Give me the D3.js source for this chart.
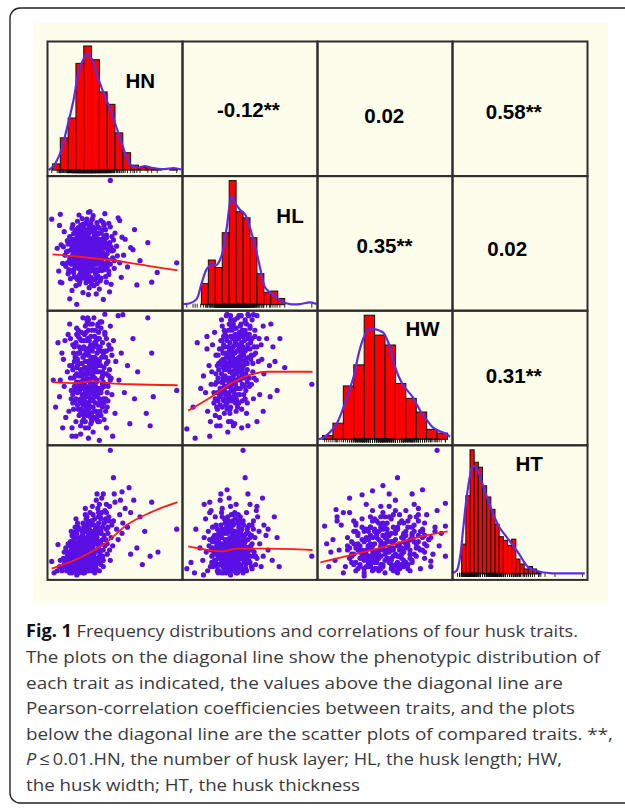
<!DOCTYPE html>
<html>
<head>
<meta charset="utf-8">
<script src="https://cdn.jsdelivr.net/npm/d3@7"></script>
<style>
  body { margin: 0; background: #fff; }
</style>
</head>
<body>
<script>
// ---- data ----
const traits = ["HN", "HL", "HW", "HT"];
const traitDomains = [[6, 22], [10, 28], [8, 14], [0.08, 0.68]];

// histograms (bin start, bin width, counts)
const histStart = [6, 12, 8, 0.10];
const histWidth = [1, 1, 0.5, 0.02];
const countsHN = [5, 26, 42, 86, 100, 89, 63, 53, 30, 14, 4, 2, 2, 1, 0, 1];
const countsHL = [17, 36, 30, 58, 100, 75, 70, 54, 25, 10, 11, 5];
const countsHW = [3, 13, 43, 60, 100, 84, 76, 45, 33, 22, 8, 5];
const countsHT = [24, 63, 100, 90, 86, 71, 62, 52, 40, 30, 27, 23, 28, 12, 8, 4, 6, 4, 1];

// density curves (value, height on count scale)
const densHN = [[5.5,0],[6.1,3.2],[7.0,13.9],[7.8,32.6],[8.7,56.7],[9.3,78],[10.0,90],[10.4,93.6],[11.0,90],[11.65,78],[12.3,66],[12.9,56.7],[13.6,46],[14.2,34],[14.85,22],[15.5,10],[16.1,3.7],[17.0,2.1],[17.8,3.2],[18.7,1.9],[19.5,1.1],[20.4,0.8],[21.5,1.6],[22.5,0.5]];
const densHL = [[9.4,0.5],[10.36,1.1],[11.3,4.5],[12.0,16.6],[12.76,28.6],[13.5,32.6],[14.2,32],[14.9,39.3],[15.64,62],[16.36,87.4],[16.84,82],[17.56,76.5],[18.28,72.7],[19.0,62],[19.72,47.6],[20.44,30],[21.16,14],[21.88,9.9],[22.84,5.9],[23.8,1.9],[24.76,0.5],[26.2,0.5],[27.64,1.9],[28.6,0.5]];
const densHW = [[7.8,0],[8.03,1.3],[8.34,5.4],[8.66,12],[8.97,24],[9.28,39],[9.52,52],[9.75,70],[9.98,82],[10.22,89],[10.45,89],[10.67,88],[10.91,86],[11.16,78],[11.39,64],[11.62,52],[11.86,44],[12.09,39],[12.33,34],[12.56,27],[12.8,20],[13.03,15],[13.27,10],[13.5,7.5],[13.73,5.9],[13.97,4],[14.12,2]];
const densHT = [[0.053,0.5],[0.076,2.7],[0.092,13.4],[0.108,37.6],[0.124,61.8],[0.14,79],[0.152,86.6],[0.168,86],[0.187,79],[0.203,71],[0.221,61.8],[0.242,52.4],[0.262,44],[0.281,37.6],[0.305,32],[0.329,26.9],[0.352,21.5],[0.376,16],[0.4,9.4],[0.423,4.8],[0.455,2.7],[0.486,1.3],[0.533,0.5],[0.597,0.5],[0.66,0.5],[0.691,0.5]];

// correlation coefficients above the diagonal
const corrPairs = [[0, 1], [0, 2], [0, 3], [1, 2], [1, 3], [2, 3]];
const corrText = ["-0.12**", "0.02", "0.58**", "0.35**", "0.02", "0.31**"];

// scatter points [x trait, y trait]
const hnHl = [[9.2,17.1],[10.1,16.4],[10.8,17.8],[11.5,16.9],[9.6,18.5],[10.4,19.2],[8.7,16.2],[9.9,15.3],[11.2,15.8],[12.1,17.4],[8.4,18.1],[9.1,19.8],[10.6,20.4],[11.8,19.1],[12.6,18.3],[13.1,16.6],[8.1,15.2],[9.4,14.4],[10.9,14.1],[12.3,15.1],[7.6,17.3],[8.9,20.6],[11.4,21.1],[12.9,20.2],[13.6,17.9],[7.9,19.4],[10.2,21.8],[9.5,13.5],[11.7,13.2],[8.3,13.9],[12.8,14.2],[13.9,15.4],[7.3,16.1],[14.2,18.6],[10.7,12.6],[9.0,12.9],[12.2,22.3],[9.8,22.6],[8.6,21.7],[13.4,21.4],[7.1,18.8],[14.6,16.2],[11.0,18.6],[10.0,17.9],[9.3,16.7],[11.9,16.2],[10.5,15.6],[8.8,17.6],[12.5,19.7],[11.3,20.0],[9.7,20.9],[13.0,18.8],[10.3,13.8],[8.0,14.6],[14.0,20.5],[12.0,12.4],[11.1,22.5],[7.5,20.7],[15.1,17.3],[14.8,14.1],[6.8,15.0],[13.5,13.1],[9.9,11.9],[11.6,11.7],[8.5,12.2],[15.3,19.6],[6.9,21.6],[7.2,13.3],[12.7,23.3],[9.4,23.1],[15.6,15.6],[14.4,22.7],[16.0,18.4],[6.6,18.3],[10.8,23.6],[13.3,12.0],[10.2,18.3],[9.6,16.0],[11.4,17.5],[10.9,16.1],[8.9,18.9],[12.3,16.0],[11.7,18.0],[9.0,15.6],[10.4,14.8],[11.0,19.6],[9.8,19.3],[8.2,16.8],[12.8,17.0],[13.8,19.5],[10.1,20.1],[8.0,17.9],[11.5,14.6],[12.4,20.9],[9.3,21.3],[7.7,15.7],[13.2,15.0],[10.6,11.6],[14.3,17.2],[8.6,19.6],[11.2,23.0],[12.9,13.4],[7.4,18.5],[9.5,17.6],[10.7,17.2],[11.8,15.0],[10.0,16.8],[9.1,18.0],[12.0,18.9],[10.3,22.0],[8.7,14.8],[13.7,16.9],[11.3,12.9],[9.7,14.2],[14.9,19.9],[12.6,21.6],[10.5,17.5],[9.9,17.2],[11.1,17.0],[10.3,18.0],[10.8,16.6],[9.5,17.9],[11.6,17.9],[10.0,18.7],[10.7,19.0],[11.3,18.4],[9.2,16.9],[10.2,16.2],[11.9,17.1],[9.7,15.6],[11.0,15.4],[12.2,16.5],[8.6,17.4],[10.5,20.0],[9.4,19.0],[12.0,19.6],[10.9,20.7],[8.9,16.0],[11.7,16.0],[10.1,15.1],[12.5,17.6],[9.0,18.3],[11.4,19.4],[10.6,14.4],[12.7,15.8],[8.4,19.3],[9.8,20.3],[11.2,21.4],[12.3,18.7],[8.1,16.3],[13.0,17.5],[10.4,16.9],[9.6,14.8],[11.8,14.3],[10.8,13.5],[9.3,20.2],[12.6,20.1],[8.7,15.2],[13.3,19.1],[10.0,21.2],[11.5,20.6],[9.1,14.0],[12.9,16.2],[10.9,18.2],[9.9,16.5],[11.3,16.3],[10.2,17.7],[10.6,15.8],[11.9,18.4],[9.4,18.4],[8.8,17.0],[12.1,15.4],[10.4,19.6],[11.1,19.0],[9.7,19.7],[10.8,16.0],[11.6,15.2],[9.3,15.4],[12.4,19.1],[10.1,14.5],[10.5,21.0],[8.5,18.6],[11.4,13.8],[13.5,18.5],[12.8,21.0],[9.0,21.0],[7.8,17.8],[13.2,14.5],[11.0,17.6],[10.7,18.5],[9.8,18.1],[11.5,18.7],[10.3,15.5],[12.0,17.9],[9.5,16.4],[10.0,19.8],[9.0,17.5],[10.6,17.0],[11.2,18.1],[9.8,18.0],[10.3,16.0],[11.8,16.6],[9.4,15.8],[10.9,15.0],[12.4,17.0],[8.6,18.0],[10.1,19.5],[11.6,19.8],[9.1,19.3],[12.2,18.0],[10.4,14.2],[11.4,16.0],[8.9,15.5],[12.7,19.2],[10.0,20.6],[11.0,21.0],[9.6,21.6],[12.0,21.2],[8.3,17.0],[13.1,18.1],[10.7,13.7],[9.2,13.8],[12.2,14.0],[8.7,20.4],[11.7,22.0],[10.4,22.5],[13.4,16.0],[9.9,14.0],[11.0,14.0],[8.0,18.9],[12.6,15.2],[10.2,19.0],[9.7,17.3],[11.3,17.3],[10.8,18.9],[9.5,18.8],[11.9,18.9],[10.5,16.3],[8.4,16.0],[12.9,19.8],[9.3,20.6],[11.4,20.4],[10.7,21.5],[9.0,16.4],[12.3,16.4],[10.1,15.8],[11.1,16.7],[9.8,15.0],[11.6,14.0],[10.3,13.3],[12.1,13.6],[9.4,13.1],[8.8,14.2],[13.0,15.6],[13.6,20.0],[8.2,20.0],[10.9,22.0],[9.2,22.2],[11.9,20.4],[12.5,22.0],[8.5,21.2],[13.2,21.9],[10.0,16.0],[10.6,18.0],[11.5,17.7],[9.6,19.6],[12.8,18.6],[9.1,17.7],[10.4,17.4],[11.1,18.2],[10.8,19.7],[9.9,21.8],[11.3,15.1],[10.2,14.9],[12.4,15.9],[9.3,16.1],[8.6,16.7],[12.0,16.9],[11.0,13.2],[13.8,18.0],[7.9,16.2],[8.1,14.9],[13.9,16.5],[10.5,18.8],[11.8,21.4],[9.5,20.0],[10.7,15.4],[11.2,19.2],[9.7,16.8],[12.6,17.3],[10.9,17.4],[10.1,18.6],[11.5,16.4],[9.9,17.6],[12.2,20.5],[8.9,19.0],[13.4,28.1],[5.9,22.5],[7.0,23.2],[14.6,22.3],[18.2,19.1],[21.9,16.2],[19.4,14.8],[18.7,13.4],[16.8,13.0],[9.1,10.2],[7.0,13.4],[16.3,18.1],[10.6,23.5],[17.2,16.5],[16.5,21.0],[8.2,11.0],[12.5,10.9]];
const hnHw = [[10.5,10.9],[9.8,11.4],[11.3,10.2],[10.1,12.1],[11.9,11.6],[9.2,10.3],[12.4,10.7],[8.8,11.8],[10.7,9.7],[11.6,12.6],[9.5,12.9],[12.8,12.0],[8.4,10.0],[10.0,9.2],[11.1,13.3],[13.2,11.1],[7.9,11.3],[9.3,9.5],[12.1,9.4],[10.4,13.6],[8.6,12.6],[13.6,10.2],[7.5,10.6],[11.8,8.9],[9.0,8.9],[12.7,13.1],[14.1,11.8],[10.9,11.7],[9.7,10.6],[11.4,11.0],[10.2,10.3],[8.1,9.4],[13.0,9.6],[7.2,12.2],[12.3,13.7],[9.1,13.4],[14.5,10.9],[10.6,8.6],[11.5,9.8],[8.7,11.0],[7.7,9.1],[13.8,12.8],[12.0,11.3],[10.3,11.2],[9.4,11.1],[11.0,10.5],[10.8,12.5],[8.3,12.9],[12.6,9.0],[6.9,10.1],[13.4,13.5],[9.9,13.9],[11.2,8.4],[14.8,12.2],[7.4,11.9],[15.2,10.3],[9.6,8.3],[12.9,8.6],[8.0,13.1],[10.0,10.0],[11.7,10.4],[12.2,12.3],[9.0,12.0],[10.9,9.1],[14.0,9.3],[7.0,10.9],[11.3,13.9],[13.3,12.4],[8.5,8.6],[10.4,12.8],[15.6,11.6],[12.5,10.0],[9.8,9.8],[11.0,11.9],[8.9,10.4],[10.2,8.9],[13.1,10.6],[7.6,12.8],[11.8,12.9],[9.3,13.0],[10.6,11.4],[9.9,10.9],[11.5,11.4],[10.3,9.6],[12.4,11.3],[9.1,11.5],[10.7,10.1],[11.1,12.3],[8.6,9.8],[12.9,11.7],[9.6,12.4],[10.1,13.1],[13.5,11.0],[8.2,11.6],[11.9,9.7],[10.8,10.6],[10.8,10.8],[10.3,10.6],[11.2,11.1],[10.6,11.8],[11.0,10.0],[9.8,10.2],[11.7,10.9],[10.1,11.5],[11.4,12.0],[9.5,10.8],[12.2,10.3],[10.4,9.8],[11.9,11.8],[9.2,11.9],[10.9,12.6],[12.6,11.5],[9.7,9.5],[11.3,9.4],[12.1,12.5],[8.8,10.6],[10.5,12.9],[9.4,12.5],[13.0,10.7],[10.0,9.0],[11.6,12.8],[8.9,9.9],[12.8,10.0],[10.7,9.3],[11.8,9.2],[9.9,12.0],[10.2,10.5],[11.1,10.4],[10.6,10.2],[11.5,10.6],[9.6,11.4],[10.9,11.4],[12.3,11.0],[10.4,11.0],[9.3,10.5],[11.3,11.6],[12.0,10.0],[10.0,12.5],[11.7,12.2],[9.1,11.2],[12.7,12.3],[10.8,9.6],[9.9,9.3],[11.2,9.9],[13.3,11.4],[8.6,11.4],[10.3,12.2],[11.9,10.5],[9.5,9.9],[12.4,9.6],[10.6,13.3],[8.7,12.2],[11.4,13.0],[9.7,13.2],[12.9,12.9],[10.1,10.8],[11.0,11.0],[10.5,10.4],[11.6,11.6],[9.8,11.7],[12.5,10.8],[10.7,12.3],[9.4,9.2],[11.1,9.0],[12.2,13.4],[8.4,10.4],[10.2,9.4],[13.6,12.1],[9.0,10.0],[11.8,13.5],[10.9,8.8],[12.0,8.9],[9.6,8.7],[13.1,9.9],[10.4,13.8],[11.5,10.1],[10.6,10.9],[10.0,11.2],[11.3,10.7],[10.4,12.4],[11.7,11.3],[9.5,10.4],[12.2,11.6],[9.9,9.7],[11.0,12.0],[10.8,9.9],[12.6,10.6],[9.2,11.6],[11.5,13.3],[10.2,13.5],[12.4,12.7],[9.3,12.2],[11.2,9.6],[10.5,9.2],[12.9,11.2],[8.9,11.1],[11.9,12.4],[9.7,12.8],[10.9,13.0],[12.1,9.8],[8.6,10.2],[13.2,12.6],[10.3,10.1],[11.4,10.3],[9.6,10.0],[10.7,11.6],[12.0,11.8],[9.0,12.7],[11.6,9.4],[10.1,9.9],[12.8,9.4],[9.4,11.7],[11.1,11.5],[10.6,12.1],[11.8,10.2],[9.8,11.1],[12.3,12.0],[10.4,10.4],[11.3,12.5],[9.1,10.8],[12.7,13.2],[10.9,10.3],[10.0,12.8],[11.5,11.8],[8.8,12.5],[13.0,10.3],[10.2,11.8],[11.0,9.3],[9.6,9.3],[12.5,12.2],[10.8,13.6],[11.9,13.2],[9.3,13.3],[8.5,11.6],[13.4,10.9],[10.5,11.5],[11.2,10.5],[9.9,10.5],[11.7,11.9],[10.3,9.3],[12.3,10.5],[10.7,12.8],[9.5,12.2],[11.4,9.1],[12.0,12.9],[10.1,12.4],[8.7,9.5],[13.1,11.8],[10.6,9.5],[11.8,13.6],[9.2,9.7],[12.2,9.2],[10.9,11.9],[9.7,11.3],[11.1,13.6],[10.4,11.3],[11.6,10.8],[12.4,11.1],[9.4,10.7],[10.0,10.7],[11.3,11.3],[10.8,11.2],[12.9,12.3],[8.9,12.0],[10.3,13.2],[11.0,8.9],[9.8,8.9],[12.6,9.8],[13.5,12.4],[8.3,11.0],[10.6,13.8],[11.7,9.0],[9.1,13.1],[12.1,13.7],[10.2,8.6],[11.4,12.7],[12.7,14.07],[14.4,14.0],[15.0,14.05],[18.2,13.9],[18.7,12.2],[21.9,10.4],[18.9,10.1],[16.5,10.0],[18.0,9.3],[18.5,8.7],[8.5,8.2],[9.0,8.2],[10.6,8.1],[6.1,10.9],[6.7,12.7],[8.2,13.6],[10.5,13.9],[16.3,12.9],[15.9,8.8],[6.4,9.6],[13.7,8.2],[16.9,11.3],[7.3,8.6],[12.0,8.0]];
const hlHw = [[16.5,11.2],[17.2,11.8],[15.8,10.6],[18.0,12.3],[16.0,12.0],[17.6,10.9],[15.2,11.5],[18.6,11.4],[14.8,10.2],[16.9,12.7],[19.2,12.1],[15.5,9.7],[17.9,13.1],[16.2,10.0],[14.4,11.0],[18.9,10.6],[19.7,13.0],[13.8,9.8],[17.0,9.4],[15.0,12.8],[20.2,11.8],[16.7,13.4],[14.1,12.1],[18.3,13.7],[13.4,10.7],[19.5,10.0],[15.9,8.9],[17.4,12.4],[16.3,11.6],[18.1,10.2],[14.6,9.1],[20.6,12.6],[13.1,11.6],[17.7,14.0],[15.3,13.3],[19.0,13.5],[21.0,11.2],[12.9,9.4],[16.8,8.8],[14.2,8.7],[18.5,9.3],[20.0,14.0],[15.7,11.0],[16.4,12.4],[17.5,11.3],[15.1,10.8],[18.7,12.9],[13.6,12.6],[19.9,10.9],[14.9,13.8],[16.1,9.3],[17.3,10.5],[12.6,10.3],[21.4,12.9],[20.4,10.2],[13.3,8.9],[17.8,8.6],[15.6,14.0],[18.2,11.0],[16.6,10.4],[14.5,11.7],[19.4,11.7],[15.4,12.2],[17.1,13.0],[12.3,11.1],[13.9,13.2],[20.9,13.5],[16.9,9.8],[14.0,10.0],[18.8,14.0],[21.8,11.6],[12.8,12.4],[15.8,8.4],[17.9,9.9],[16.2,13.8],[19.6,12.5],[14.3,9.5],[16.0,11.5],[17.4,12.0],[15.3,10.4],[18.4,11.9],[16.8,10.9],[16.6,11.1],[16.0,10.7],[17.2,11.4],[15.5,10.3],[17.8,11.9],[16.3,11.7],[17.0,10.5],[15.8,11.4],[18.3,12.3],[16.8,12.2],[15.2,10.0],[17.5,12.6],[16.1,10.1],[18.0,11.2],[14.7,10.5],[17.3,13.0],[15.6,12.0],[18.8,12.0],[16.5,12.9],[14.9,11.2],[17.9,10.7],[16.2,9.6],[18.5,13.1],[15.0,9.6],[17.6,13.5],[16.9,11.6],[15.4,11.8],[19.1,12.7],[14.4,9.9],[17.1,9.9],[16.4,13.3],[18.2,12.8],[15.9,12.5],[19.4,11.3],[14.2,10.8],[17.4,11.0],[16.7,10.3],[15.3,9.3],[18.6,10.8],[17.0,12.8],[16.0,13.6],[14.6,12.4],[19.0,13.4],[15.7,9.8],[17.7,12.1],[16.4,11.0],[18.1,11.6],[15.1,11.9],[17.2,9.6],[16.2,12.4],[19.8,12.2],[13.8,10.3],[18.4,10.4],[15.9,10.9],[16.8,13.8],[17.5,10.2],[14.8,12.8],[19.3,13.8],[16.6,9.9],[18.9,11.0],[15.4,13.2],[17.9,13.3],[13.5,11.3],[20.3,12.9],[16.1,11.3],[17.1,12.3],[15.6,10.6],[18.3,13.8],[14.3,11.6],[17.8,9.5],[16.9,10.0],[15.2,12.6],[19.6,11.0],[16.3,8.9],[14.0,9.2],[18.6,9.8],[17.4,14.0],[20.7,11.9],[15.0,13.5],[16.5,12.0],[16.4,11.3],[17.0,11.9],[15.6,10.9],[17.6,11.6],[16.1,11.9],[16.9,10.7],[15.3,10.6],[18.2,11.8],[15.9,11.7],[17.3,12.3],[16.6,12.5],[14.9,10.8],[18.5,12.4],[16.3,10.5],[17.8,12.7],[15.4,11.1],[17.1,11.2],[16.0,10.3],[18.7,12.6],[14.6,10.1],[17.5,13.2],[16.2,13.0],[15.1,12.2],[19.0,12.4],[16.7,11.8],[15.7,12.8],[17.9,11.4],[14.5,11.4],[18.3,13.3],[16.5,10.7],[17.4,12.9],[15.0,10.4],[19.3,12.9],[16.8,12.9],[15.5,11.6],[18.1,12.1],[14.8,11.8],[17.2,10.9],[16.1,12.7],[17.7,13.6],[15.2,9.9],[18.9,13.1],[16.4,12.2],[14.3,10.3],[17.0,13.4],[15.8,10.0],[18.4,11.2],[16.6,13.6],[15.4,12.5],[19.5,12.1],[14.1,11.2],[17.6,10.5],[16.3,9.9],[18.0,13.0],[15.6,13.0],[17.3,10.2],[16.9,13.1],[14.7,9.7],[19.1,11.9],[16.0,11.0],[17.9,12.3],[15.3,11.4],[18.6,11.7],[16.7,10.1],[15.9,13.3],[17.1,12.6],[14.4,12.1],[18.2,10.6],[16.2,10.8],[17.5,11.7],[15.1,11.0],[19.7,13.3],[16.5,13.0],[15.7,9.5],[18.8,12.9],[17.2,13.9],[14.9,12.4],[16.8,11.4],[16.0,12.3],[17.8,11.1],[15.5,10.2],[18.5,13.6],[16.3,13.5],[14.2,9.6],[17.4,9.8],[15.2,13.0],[19.2,10.7],[16.6,10.9],[17.0,10.0],[15.8,12.1],[18.3,10.0],[16.1,9.5],[14.0,10.7],[20.0,12.5],[17.7,14.0],[15.0,11.6],[16.4,11.6],[18.0,12.5],[17.3,11.5],[16.8,12.6],[27.9,10.7],[9.9,8.55],[11.1,8.1],[13.2,8.2],[11.4,12.7],[12.8,13.0],[15.7,14.07],[16.2,14.0],[18.7,14.07],[19.5,14.05],[22.9,10.4],[22.3,12.5],[21.9,10.1],[20.9,9.4],[18.7,8.7],[16.6,8.7],[14.7,8.7],[22.6,11.8],[23.3,12.9],[10.8,9.6],[11.9,10.5],[22.0,13.6],[24.0,11.5],[20.0,8.9]];
const hnHt = [[8.5,0.14],[9.2,0.16],[10.1,0.13],[9.8,0.19],[10.7,0.21],[8.9,0.11],[11.3,0.18],[7.6,0.12],[10.4,0.25],[11.8,0.23],[9.5,0.22],[8.1,0.17],[12.2,0.28],[10.9,0.15],[7.2,0.10],[11.5,0.30],[9.0,0.26],[12.7,0.22],[10.2,0.29],[8.4,0.20],[13.1,0.31],[11.0,0.34],[9.7,0.12],[7.9,0.14],[12.4,0.17],[10.6,0.11],[11.9,0.36],[13.5,0.26],[8.8,0.24],[9.4,0.30],[12.9,0.38],[11.2,0.27],[10.0,0.17],[8.2,0.09],[13.8,0.34],[9.9,0.33],[11.6,0.13],[7.4,0.16],[12.0,0.42],[14.2,0.30],[10.8,0.38],[6.9,0.12],[13.3,0.41],[9.1,0.19],[11.4,0.24],[12.6,0.33],[10.5,0.19],[8.6,0.28],[14.6,0.37],[9.6,0.10],[11.7,0.20],[13.0,0.18],[10.3,0.35],[7.7,0.21],[12.3,0.45],[14.0,0.43],[11.1,0.41],[8.0,0.11],[10.9,0.27],[9.3,0.14],[15.0,0.33],[12.8,0.25],[6.6,0.10],[13.7,0.22],[10.0,0.23],[9.0,0.35],[11.8,0.16],[14.4,0.25],[8.3,0.24],[12.1,0.20],[10.6,0.31],[13.2,0.36],[15.3,0.40],[11.4,0.09],[9.8,0.27],[7.0,0.15],[12.5,0.12],[10.2,0.40],[14.9,0.28],[8.7,0.18],[11.0,0.22],[9.4,0.09],[10.8,0.12],[13.9,0.47],[15.6,0.31],[12.2,0.35],[8.9,0.31],[11.6,0.44],[16.0,0.38],[7.5,0.19],[10.4,0.16],[9.6,0.20],[11.2,0.12],[12.0,0.10],[13.4,0.15],[8.3,0.13],[10.1,0.09],[9.5,0.15],[10.2,0.17],[8.8,0.13],[9.9,0.21],[10.8,0.18],[8.3,0.16],[11.2,0.22],[9.1,0.10],[10.5,0.13],[9.6,0.26],[11.7,0.26],[8.0,0.13],[10.0,0.11],[8.9,0.20],[11.0,0.29],[9.4,0.18],[10.7,0.24],[12.0,0.24],[7.8,0.10],[9.7,0.14],[10.4,0.20],[11.5,0.16],[8.6,0.22],[12.4,0.31],[9.2,0.23],[10.9,0.32],[11.3,0.14],[8.4,0.11],[9.8,0.29],[10.1,0.25],[12.1,0.19],[7.6,0.14],[11.8,0.28],[9.0,0.17],[10.6,0.15],[11.4,0.35],[8.7,0.26],[9.5,0.11],[12.6,0.27],[10.3,0.22],[11.1,0.10],[8.2,0.19],[9.3,0.12],[10.8,0.28],[11.9,0.33],[9.7,0.17],[10.0,0.31],[12.8,0.35],[8.5,0.09],[11.6,0.20],[10.5,0.34],[9.1,0.28],[7.3,0.12],[12.3,0.38],[10.9,0.19],[9.9,0.09],[13.1,0.28],[11.0,0.13],[8.0,0.23],[10.3,0.14],[11.4,0.27],[9.6,0.24],[12.5,0.15],[10.7,0.10],[8.8,0.16],[11.8,0.40],[13.6,0.32],[10.1,0.20],[9.4,0.21],[11.2,0.37],[12.9,0.42],[8.4,0.29],[10.6,0.26],[9.2,0.33],[11.6,0.11],[7.9,0.17],[12.2,0.13],[10.2,0.37],[13.3,0.20],[9.0,0.14],[9.3,0.15],[10.0,0.16],[9.0,0.12],[10.6,0.19],[9.7,0.22],[8.6,0.14],[11.1,0.20],[8.9,0.10],[10.3,0.12],[9.4,0.24],[11.5,0.24],[8.2,0.15],[10.5,0.10],[9.1,0.21],[11.2,0.27],[9.8,0.16],[10.9,0.23],[11.9,0.21],[8.0,0.12],[9.5,0.13],[10.2,0.19],[11.4,0.13],[8.8,0.23],[12.2,0.29],[9.6,0.18],[10.7,0.30],[11.0,0.16],[8.5,0.12],[9.9,0.27],[10.4,0.24],[12.0,0.17],[7.8,0.15],[11.7,0.30],[9.2,0.18],[10.8,0.14],[11.3,0.32],[8.9,0.27],[9.6,0.12],[12.4,0.25],[10.1,0.21],[11.0,0.11],[8.4,0.18],[9.4,0.11],[10.6,0.27],[11.8,0.31],[9.8,0.18],[10.2,0.29],[12.6,0.33],[8.7,0.10],[11.5,0.19],[10.4,0.32],[9.0,0.29],[7.5,0.13],[12.1,0.36],[10.9,0.17],[9.7,0.10],[12.9,0.30],[11.2,0.15],[8.2,0.22],[10.0,0.14],[11.6,0.26],[9.5,0.25],[12.3,0.16],[10.5,0.11],[8.6,0.17],[11.9,0.38],[13.2,0.34],[10.3,0.18],[9.3,0.20],[11.1,0.34],[12.7,0.39],[8.5,0.27],[10.8,0.25],[9.3,0.31],[11.4,0.11],[8.1,0.16],[12.0,0.14],[10.4,0.36],[13.0,0.23],[9.1,0.15],[10.1,0.14],[9.6,0.16],[10.9,0.13],[8.3,0.14],[11.3,0.23],[9.9,0.12],[10.6,0.22],[12.5,0.20],[9.2,0.26],[11.7,0.15],[10.0,0.26],[8.8,0.12],[11.0,0.25],[9.4,0.17],[12.2,0.23],[10.7,0.16],[9.8,0.23],[11.5,0.29],[8.0,0.19],[10.3,0.10],[13.4,0.68],[13.8,0.548],[11.7,0.47],[12.5,0.47],[14.9,0.48],[14.7,0.44],[18.7,0.43],[21.9,0.30],[17.8,0.29],[19.5,0.19],[18.5,0.17],[16.8,0.21],[16.0,0.18],[6.7,0.226],[5.9,0.145],[9.1,0.08],[17.2,0.36],[16.4,0.44],[15.8,0.50],[6.2,0.09],[17.5,0.13]];
const hlHt = [[15.2,0.14],[16.4,0.18],[17.5,0.12],[14.6,0.21],[18.3,0.16],[16.9,0.24],[15.8,0.10],[13.9,0.15],[19.1,0.20],[17.2,0.28],[14.2,0.27],[16.1,0.31],[18.7,0.25],[13.3,0.12],[19.8,0.13],[15.5,0.34],[17.8,0.33],[12.7,0.19],[20.4,0.23],[16.6,0.37],[14.9,0.09],[18.0,0.09],[13.6,0.31],[19.5,0.30],[15.0,0.40],[17.0,0.42],[12.4,0.26],[20.9,0.17],[16.2,0.14],[14.4,0.17],[18.5,0.38],[15.7,0.23],[17.4,0.20],[13.1,0.22],[19.3,0.11],[16.8,0.11],[14.0,0.36],[21.3,0.27],[15.3,0.28],[18.9,0.32],[12.9,0.10],[20.1,0.36],[16.0,0.45],[14.7,0.44],[17.7,0.16],[13.8,0.19],[19.0,0.42],[15.9,0.19],[17.1,0.15],[16.3,0.26],[14.5,0.13],[18.2,0.22],[12.2,0.15],[21.6,0.20],[15.6,0.12],[13.4,0.39],[19.7,0.26],[16.5,0.10],[17.9,0.27],[14.1,0.24],[20.6,0.12],[15.1,0.18],[18.6,0.14],[16.7,0.29],[13.0,0.29],[17.3,0.37],[14.8,0.32],[19.4,0.17],[15.4,0.22],[16.9,0.17],[12.6,0.35],[21.0,0.32],[18.4,0.11],[14.3,0.10],[17.6,0.24],[15.0,0.15],[16.2,0.21],[13.7,0.26],[19.9,0.39],[22.2,0.15],[16.1,0.12],[17.2,0.09],[14.6,0.29],[18.1,0.19],[15.7,0.16],[11.8,0.21],[20.3,0.29],[13.5,0.14],[16.4,0.33],[18.8,0.28],[16.5,0.15],[15.7,0.17],[17.3,0.14],[16.1,0.20],[17.9,0.19],[15.1,0.12],[16.8,0.13],[14.6,0.16],[18.4,0.13],[16.3,0.23],[17.6,0.22],[15.4,0.25],[14.2,0.20],[18.9,0.17],[16.0,0.10],[17.1,0.26],[15.9,0.29],[18.2,0.27],[14.9,0.14],[16.7,0.19],[13.7,0.12],[19.3,0.23],[15.3,0.19],[17.4,0.11],[16.4,0.28],[14.5,0.24],[18.6,0.21],[15.8,0.14],[17.0,0.17],[13.9,0.27],[16.2,0.32],[17.8,0.30],[15.0,0.22],[19.0,0.14],[16.6,0.10],[14.3,0.12],[18.0,0.34],[15.6,0.31],[17.2,0.33],[13.5,0.17],[16.9,0.21],[19.6,0.19],[15.2,0.09],[17.7,0.12],[14.8,0.27],[16.3,0.17],[18.5,0.10],[15.5,0.15],[17.5,0.29],[14.1,0.32],[16.0,0.25],[18.7,0.31],[15.8,0.36],[17.0,0.09],[14.4,0.09],[19.2,0.27],[16.5,0.34],[13.2,0.25],[18.1,0.15],[15.3,0.35],[17.3,0.18],[16.8,0.38],[14.7,0.19],[20.0,0.16],[15.9,0.21],[17.6,0.36],[16.1,0.16],[18.3,0.24],[14.0,0.14],[16.7,0.25],[15.6,0.11],[17.9,0.10],[13.4,0.20],[19.5,0.34],[16.4,0.12],[15.0,0.30],[18.8,0.20],[17.1,0.22],[16.2,0.41],[14.9,0.38],[16.3,0.16],[15.5,0.18],[17.1,0.15],[16.0,0.21],[17.7,0.18],[15.0,0.13],[16.6,0.12],[14.8,0.17],[18.2,0.14],[16.2,0.24],[17.4,0.23],[15.6,0.24],[14.4,0.19],[18.7,0.18],[16.1,0.11],[17.2,0.25],[15.7,0.28],[18.0,0.26],[15.1,0.15],[16.9,0.20],[14.0,0.13],[19.1,0.22],[15.4,0.20],[17.3,0.12],[16.5,0.27],[14.7,0.23],[18.4,0.20],[15.9,0.13],[17.0,0.18],[14.2,0.26],[16.3,0.30],[17.7,0.29],[15.1,0.23],[18.8,0.15],[16.7,0.11],[14.5,0.13],[18.1,0.32],[15.8,0.30],[17.4,0.31],[13.8,0.18],[16.8,0.22],[19.4,0.20],[15.3,0.10],[17.6,0.13],[14.9,0.26],[16.4,0.16],[18.3,0.11],[15.6,0.16],[17.4,0.28],[14.3,0.30],[16.1,0.26],[18.6,0.30],[15.9,0.34],[17.1,0.10],[14.6,0.10],[19.0,0.26],[16.6,0.32],[13.6,0.24],[18.0,0.16],[15.4,0.33],[17.2,0.19],[16.9,0.35],[14.8,0.20],[19.8,0.17],[16.0,0.22],[17.5,0.34],[16.2,0.15],[18.2,0.25],[14.1,0.15],[16.8,0.26],[15.7,0.12],[17.8,0.11],[13.6,0.21],[19.3,0.32],[16.5,0.13],[15.2,0.29],[18.7,0.21],[17.0,0.23],[16.3,0.37],[15.0,0.36],[16.7,0.17],[15.5,0.21],[17.9,0.21],[16.1,0.18],[15.2,0.17],[17.6,0.16],[14.5,0.28],[18.5,0.28],[16.4,0.20],[15.8,0.25],[17.3,0.26],[16.6,0.14],[15.0,0.19],[18.1,0.18],[16.9,0.29],[14.2,0.22],[17.8,0.24],[15.6,0.09],[19.2,0.12],[16.0,0.33],[18.0,0.68],[18.3,0.548],[15.7,0.49],[14.8,0.47],[13.2,0.43],[12.4,0.42],[13.2,0.38],[18.7,0.47],[20.0,0.41],[21.6,0.30],[22.9,0.26],[27.9,0.17],[9.9,0.11],[10.5,0.14],[12.3,0.08],[16.2,0.08],[11.2,0.30],[22.5,0.36],[20.8,0.45],[23.2,0.12],[11.0,0.09]];
const hwHt = [[10.5,0.15],[11.2,0.19],[9.8,0.13],[10.9,0.22],[11.7,0.17],[10.1,0.25],[12.1,0.24],[9.4,0.18],[11.5,0.28],[10.7,0.11],[12.5,0.21],[9.1,0.12],[10.3,0.31],[11.9,0.33],[9.7,0.23],[12.8,0.29],[10.0,0.09],[11.0,0.36],[8.8,0.20],[12.3,0.14],[11.4,0.10],[9.5,0.29],[13.1,0.25],[10.6,0.27],[12.0,0.39],[8.6,0.15],[10.8,0.41],[11.6,0.12],[9.9,0.35],[12.6,0.34],[13.4,0.31],[9.2,0.26],[10.4,0.20],[11.3,0.24],[12.2,0.18],[10.2,0.17],[11.8,0.21],[9.6,0.10],[13.0,0.37],[10.9,0.13],[8.9,0.32],[12.4,0.42],[11.1,0.30],[9.3,0.38],[10.5,0.35],[13.6,0.22],[11.5,0.44],[12.9,0.16],[9.0,0.09],[10.1,0.42],[12.7,0.11],[11.9,0.26],[9.8,0.20],[10.7,0.18],[11.3,0.15],[13.3,0.18],[8.5,0.25],[12.1,0.31],[10.3,0.12],[11.7,0.37],[9.6,0.33],[10.8,0.24],[12.3,0.27],[11.0,0.09],[9.4,0.14],[13.7,0.28],[10.0,0.29],[11.4,0.20],[12.6,0.40],[9.2,0.22],[10.6,0.14],[11.8,0.13],[8.7,0.36],[13.2,0.12],[10.4,0.39],[12.0,0.23],[11.1,0.16],[9.7,0.27],[12.9,0.33],[10.2,0.22],[11.6,0.31],[9.9,0.16],[13.5,0.39],[10.9,0.33],[11.2,0.41],[10.8,0.17],[11.4,0.21],[10.2,0.14],[11.0,0.26],[11.9,0.19],[10.5,0.23],[12.3,0.26],[9.8,0.16],[11.6,0.30],[10.9,0.12],[12.6,0.24],[9.5,0.13],[10.7,0.29],[12.0,0.29],[10.1,0.20],[11.2,0.14],[12.9,0.27],[10.4,0.10],[11.5,0.25],[9.9,0.25],[11.8,0.16],[10.6,0.19],[12.4,0.32],[10.0,0.11],[11.1,0.33],[9.6,0.21],[12.1,0.13],[10.3,0.27],[11.3,0.11],[12.7,0.20],[10.8,0.31],[11.7,0.23],[9.3,0.16],[10.5,0.14],[12.2,0.36],[11.0,0.18],[10.1,0.30],[11.5,0.13],[12.8,0.30],[9.7,0.11],[11.9,0.27],[10.6,0.34],[11.3,0.28],[10.2,0.22],[12.5,0.17],[9.4,0.24],[11.6,0.09],[10.9,0.23],[12.0,0.21],[10.4,0.18],[11.2,0.36],[9.9,0.31],[13.0,0.22],[10.7,0.10],[11.8,0.34],[10.0,0.15],[12.3,0.15],[11.4,0.17],[9.6,0.29],[10.3,0.36],[12.6,0.37],[11.1,0.24],[10.6,0.26],[11.7,0.11],[9.8,0.19],[12.9,0.19],[10.9,0.38],[11.5,0.39],[10.2,0.12],[12.2,0.10],[9.2,0.20],[11.0,0.15],[10.5,0.30],[12.4,0.29],[11.3,0.20],[13.2,0.26],[9.5,0.34],[10.8,0.21],[11.9,0.12],[10.1,0.26],[10.7,0.16],[11.3,0.20],[10.3,0.15],[11.1,0.25],[11.8,0.18],[10.4,0.22],[12.2,0.25],[9.9,0.17],[11.5,0.29],[10.8,0.13],[12.5,0.23],[9.6,0.14],[10.6,0.28],[11.9,0.28],[10.2,0.21],[11.3,0.13],[12.8,0.26],[10.5,0.11],[11.4,0.24],[10.0,0.24],[11.9,0.15],[10.7,0.20],[12.3,0.31],[10.1,0.12],[11.0,0.32],[9.7,0.20],[12.0,0.14],[10.4,0.26],[11.4,0.12],[12.6,0.21],[10.9,0.30],[11.6,0.22],[9.4,0.17],[10.6,0.15],[12.1,0.34],[11.1,0.19],[10.2,0.29],[11.6,0.14],[12.7,0.29],[9.8,0.12],[11.8,0.26],[10.7,0.33],[11.2,0.27],[10.3,0.23],[12.4,0.18],[9.5,0.23],[11.5,0.10],[10.8,0.22],[12.1,0.22],[10.5,0.19],[11.3,0.35],[10.0,0.30],[12.9,0.23],[10.6,0.11],[11.7,0.33],[10.1,0.16],[12.2,0.16],[11.5,0.18],[9.7,0.28],[10.4,0.34],[12.5,0.36],[11.0,0.23],[10.7,0.25],[11.8,0.12],[9.9,0.20],[12.8,0.20],[10.8,0.36],[11.4,0.37],[10.3,0.13],[12.1,0.11],[9.3,0.21],[11.1,0.16],[10.5,0.29],[12.3,0.28],[11.2,0.21],[13.1,0.25],[9.6,0.32],[10.9,0.20],[11.8,0.13],[10.2,0.25],[11.0,0.20],[10.6,0.17],[11.6,0.17],[10.1,0.18],[12.0,0.27],[10.9,0.27],[11.3,0.16],[9.8,0.22],[12.4,0.24],[10.4,0.16],[11.7,0.20],[10.8,0.11],[11.1,0.28],[9.5,0.18],[12.6,0.27],[10.3,0.31],[11.9,0.24],[10.0,0.19],[11.4,0.31],[12.2,0.20],[13.5,0.68],[11.6,0.548],[10.4,0.485],[9.9,0.466],[11.2,0.47],[12.3,0.47],[13.9,0.425],[8.65,0.395],[9.0,0.38],[8.7,0.34],[8.1,0.315],[13.9,0.315],[13.4,0.29],[13.9,0.17],[13.2,0.146],[8.3,0.12],[10.0,0.075],[8.4,0.19],[9.3,0.45],[10.9,0.51],[12.8,0.49],[8.2,0.23]];

// smoothed fit lines in the scatter panels
const fitHnHl = [[6,17.4],[10,17.0],[14,16.5],[18,15.8],[22,15.1]];
const fitHnHw = [[6,10.8],[9,10.75],[11,10.85],[13,10.75],[16,10.7],[22,10.65]];
const fitHlHw = [[10.1,9.43],[13,10.0],[16.6,10.8],[19,11.15],[21.4,11.3],[28,11.3]];
const fitHnHt = [[5.9,0.11],[9.9,0.17],[13,0.24],[15.5,0.32],[18.5,0.38],[22,0.43]];
const fitHlHt = [[10.1,0.217],[15.2,0.193],[17.2,0.207],[21.5,0.207],[28,0.20]];
const fitHwHt = [[7.9,0.14],[9.55,0.18],[11.15,0.22],[12.75,0.265],[14,0.29]];

const captionLines = [
  "The plots on the diagonal line show the phenotypic distribution of",
  "each trait as indicated, the values above the diagonal line are",
  "Pearson-correlation coefficiencies between traits, and the plots",
  "below the diagonal line are the scatter plots of compared traits. **,",
];

// ---- layout ----
const W = 625, H = 808;
const gx = 47.5, gy = 41.5, cw = 135, ch = 134.6;
const cream = "#fdfdec";
const pointColor = "#5a10e4";
const densColor = "#5b2de8";

const counts = [countsHN, countsHL, countsHW, countsHT];
const dens = [densHN, densHL, densHW, densHT];
const scatters = [
  { row: 1, col: 0, pts: hnHl, fit: fitHnHl },
  { row: 2, col: 0, pts: hnHw, fit: fitHnHw },
  { row: 2, col: 1, pts: hlHw, fit: fitHlHw },
  { row: 3, col: 0, pts: hnHt, fit: fitHnHt },
  { row: 3, col: 1, pts: hlHt, fit: fitHlHt },
  { row: 3, col: 2, pts: hwHt, fit: fitHwHt }
];
// rug values for each trait, taken from the scatter data
const rugs = [hnHl.map(d => d[0]), hlHw.map(d => d[0]), hwHt.map(d => d[0]), hnHt.map(d => d[1])];

const diagLabelPos = [[92.8, 46.8], [107.5, 47.2], [105, 25.3], [76.7, 26]];
const corrPos = [[65.8, 75.8], [66.8, 81], [61.2, 77.8], [67, 77.2], [54.7, 79.9], [61.2, 72.6]];

const svg = d3.select("body").append("svg")
  .attr("width", W).attr("height", H);

// outer frame and cream panel
svg.append("rect")
  .attr("x", 10).attr("y", 8).attr("width", 650).attr("height", 795)
  .attr("rx", 10).attr("fill", "#fff")
  .attr("stroke", "#222").attr("stroke-width", 1.4);

svg.append("rect")
  .attr("x", 33).attr("y", 23).attr("width", 575).attr("height", 580)
  .attr("fill", cream);

const defs = svg.append("defs");
const cellX = j => gx + j * cw;
const cellY = i => gy + i * ch;

// one clip path per cell
for (let i = 0; i < 4; i++) {
  for (let j = 0; j < 4; j++) {
    defs.append("clipPath").attr("id", `c${i}${j}`)
      .append("rect")
      .attr("x", cellX(j)).attr("y", cellY(i))
      .attr("width", cw).attr("height", ch);
  }
}

const xScale = (t, j) => d3.scaleLinear().domain(traitDomains[t]).range([cellX(j) + 5, cellX(j) + cw - 5]);

// cell backgrounds
for (let i = 0; i < 4; i++) {
  for (let j = 0; j < 4; j++) {
    svg.append("rect")
      .attr("x", cellX(j)).attr("y", cellY(i))
      .attr("width", cw).attr("height", ch)
      .attr("fill", cream);
  }
}

// diagonal: histograms with density and rug
traits.forEach((name, t) => {
  const x0 = cellX(t), y0 = cellY(t);
  const g = svg.append("g").attr("clip-path", `url(#c${t}${t})`);
  const xs = xScale(t, t);
  const base = y0 + ch - 6;
  const ys = d3.scaleLinear().domain([0, d3.max(counts[t])]).range([base, y0 + 4.5]);
  const bins = counts[t].map((c, k) => ({
    x0: histStart[t] + k * histWidth[t],
    x1: histStart[t] + (k + 1) * histWidth[t],
    c: c
  }));

  g.selectAll("rect.bar")
    .data(bins)
    .enter()
    .append("rect")
    .attr("class", "bar")
    .attr("x", d => xs(d.x0))
    .attr("width", d => xs(d.x1) - xs(d.x0))
    .attr("y", d => ys(d.c))
    .attr("height", d => base - ys(d.c))
    .attr("fill", "#ff0000")
    .attr("stroke", "#111")
    .attr("stroke-width", 1);

  g.selectAll("line.rug")
    .data(rugs[t])
    .enter()
    .append("line")
    .attr("x1", d => xs(d)).attr("x2", d => xs(d))
    .attr("y1", base - 1).attr("y2", base + 3)
    .attr("stroke", "#111")
    .attr("stroke-width", 0.9);

  g.append("path")
    .datum(dens[t])
    .attr("fill", "none")
    .attr("stroke", densColor)
    .attr("stroke-width", 2.2)
    .attr("stroke-linejoin", "round")
    .attr("d", d3.line().x(d => xs(d[0])).y(d => ys(d[1])).curve(d3.curveCatmullRom));

  svg.append("text")
    .attr("x", x0 + diagLabelPos[t][0])
    .attr("y", y0 + diagLabelPos[t][1])
    .attr("text-anchor", "middle")
    .attr("font-family", "'Liberation Sans', Arial, sans-serif")
    .attr("font-weight", "bold")
    .attr("font-size", "20.5px")
    .attr("fill", "#000")
    .text(name);
});

// lower triangle: scatter plots with smooth fit
scatters.forEach(p => {
  const g = svg.append("g").attr("clip-path", `url(#c${p.row}${p.col})`);
  const xs = xScale(p.col, p.col);
  const ys = d3.scaleLinear().domain(traitDomains[p.row])
    .range([cellY(p.row) + ch - 5, cellY(p.row) + 5]);

  g.selectAll("circle")
    .data(p.pts)
    .enter()
    .append("circle")
    .attr("cx", d => xs(d[0]))
    .attr("cy", d => ys(d[1]))
    .attr("r", 2.6)
    .attr("fill", pointColor);

  g.append("path")
    .datum(p.fit)
    .attr("fill", "none")
    .attr("stroke", "#ff1a1a")
    .attr("stroke-width", 1.8)
    .attr("d", d3.line().x(d => xs(d[0])).y(d => ys(d[1])).curve(d3.curveMonotoneX));
});

// upper triangle: correlation coefficients
corrPairs.forEach(([r, c], k) => {
  svg.append("text")
    .attr("x", cellX(c) + corrPos[k][0])
    .attr("y", cellY(r) + corrPos[k][1])
    .attr("text-anchor", "middle")
    .attr("font-family", "'Liberation Sans', Arial, sans-serif")
    .attr("font-weight", "bold")
    .attr("font-size", "20.5px")
    .attr("fill", "#000")
    .text(corrText[k]);
});

// grid lines
for (let i = 0; i < 4; i++) {
  for (let j = 0; j < 4; j++) {
    svg.append("rect")
      .attr("x", cellX(j)).attr("y", cellY(i))
      .attr("width", cw).attr("height", ch)
      .attr("fill", "none")
      .attr("stroke", "#2e2e2e")
      .attr("stroke-width", 2);
  }
}

// caption
const capFont = "'Open Sans', 'Noto Sans', sans-serif";
const capX = 26, capY0 = 637.3, capStep = 25.6;
const capWidths = [552, 574, 537, 549, 587, 536, 334];

function capLine(k) {
  return svg.append("text")
    .attr("x", capX)
    .attr("y", capY0 + k * capStep)
    .attr("font-family", capFont)
    .attr("font-size", "17px")
    .attr("fill", "#3a3a3a")
    .attr("textLength", capWidths[k])
    .attr("lengthAdjust", "spacingAndGlyphs");
}

const l1 = capLine(0);
l1.append("tspan").attr("font-weight", "bold").attr("fill", "#111").text("Fig. 1");
l1.append("tspan").text(" Frequency distributions and correlations of four husk traits.");

captionLines.forEach((s, k) => capLine(k + 1).text(s));

const l6 = capLine(5);
l6.append("tspan").attr("font-style", "italic").text("P");
l6.append("tspan").text("\u2009\u2264\u20090.01.HN, the number of husk layer; HL, the husk length; HW,");

capLine(6).text("the husk width; HT, the husk thickness");
</script>
</body>
</html>
